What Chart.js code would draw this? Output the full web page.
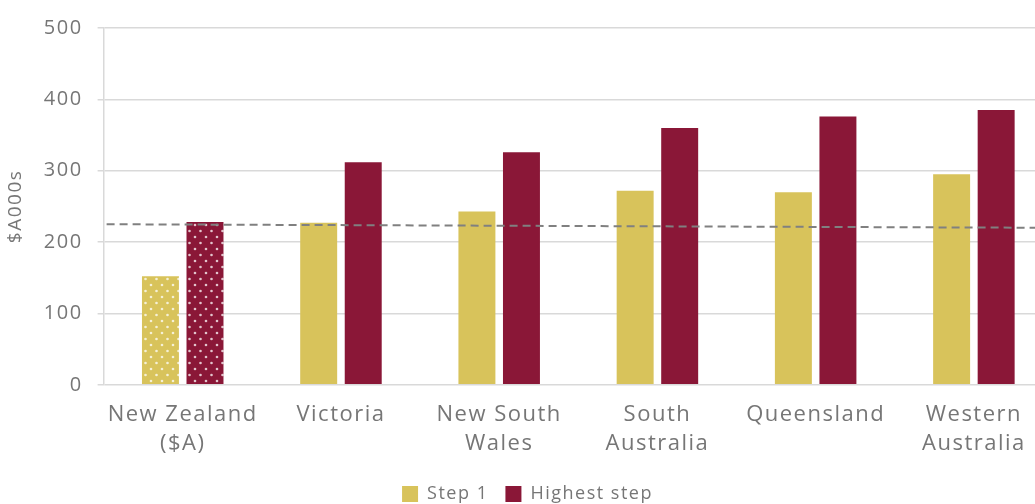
<!DOCTYPE html>
<html>
<head>
<meta charset="utf-8">
<script src="https://cdn.jsdelivr.net/npm/chart.js@4"></script>
<style>
  html, body { margin: 0; padding: 0; background: #fff; overflow: hidden; }
  canvas { display: block; }
</style>
</head>
<body>
<canvas id="payChart" width="1053" height="513"></canvas>
<script>
// Chart data
const categories = [['New Zealand', '($A)'], 'Victoria', ['New South', 'Wales'], ['South', 'Australia'], 'Queensland', ['Western', 'Australia']];
const step1 = [152, 227, 243, 272, 270, 295];
const highestStep = [228, 312, 326, 360, 376, 385];
const averageLine = [225, 220]; // dashed reference line, left edge to right edge
const yTicks = [0, 100, 200, 300, 400, 500];

const GOLD = '#D8C35B';
const MAROON = '#8A1737';
const TEXT = '#767676';
const solidColors = [GOLD, MAROON];

// dotted fill for the New Zealand bars
function dotPattern(color) {
  const c = document.createElement('canvas');
  c.width = 11; c.height = 12;
  const ctx = c.getContext('2d');
  ctx.fillStyle = color;
  ctx.fillRect(0, 0, 11, 12);
  ctx.fillStyle = 'rgba(255,255,255,0.75)';
  [[2.5, 3], [8, 9]].forEach(p => {
    ctx.beginPath();
    ctx.arc(p[0], p[1], 1.3, 0, Math.PI * 2);
    ctx.fill();
  });
  return ctx.createPattern(c, 'repeat');
}

function fills(color) {
  return categories.map((c, i) => i === 0 ? dotPattern(color) : color);
}

// Excel-ish spaced lettering
const spacing = {
  id: 'spacing',
  beforeUpdate(chart) { chart.ctx.letterSpacing = '1.5px'; },
  beforeLayout(chart) { chart.ctx.letterSpacing = '1.5px'; },
  beforeDraw(chart) { chart.ctx.letterSpacing = '1.5px'; }
};

// dashed average line across the whole plot
const avgLine = {
  id: 'avgLine',
  afterDatasetsDraw(chart) {
    const { ctx, chartArea, scales } = chart;
    ctx.save();
    ctx.strokeStyle = '#808080';
    ctx.lineWidth = 2;
    ctx.setLineDash([8, 5]);
    ctx.beginPath();
    ctx.moveTo(chartArea.left + 3, scales.y.getPixelForValue(averageLine[0]));
    ctx.lineTo(chartArea.right, scales.y.getPixelForValue(averageLine[1]));
    ctx.stroke();
    ctx.restore();
  }
};

const ctx = document.getElementById('payChart');
new Chart(ctx, {
  type: 'bar',
  data: {
    labels: categories,
    datasets: [
      {
        label: 'Step 1',
        data: step1,
        backgroundColor: fills(GOLD),
        borderWidth: 0,
        barPercentage: 0.83,
        categoryPercentage: 0.563
      },
      {
        label: 'Highest step',
        data: highestStep,
        backgroundColor: fills(MAROON),
        borderWidth: 0,
        barPercentage: 0.83,
        categoryPercentage: 0.563
      }
    ]
  },
  plugins: [spacing, avgLine],
  options: {
    responsive: false,
    animation: false,
    devicePixelRatio: 1,
    layout: { padding: { top: 28, right: 0, left: 2, bottom: 0 } },
    plugins: {
      tooltip: { enabled: false },
      legend: {
        position: 'bottom',
        labels: {
          boxWidth: 16,
          boxHeight: 16,
          padding: 17,
          color: TEXT,
          font: { family: 'Open Sans', size: 18 },
          generateLabels(chart) {
            const items = Chart.defaults.plugins.legend.labels.generateLabels(chart);
            items.forEach(it => {
              it.fillStyle = solidColors[it.datasetIndex];
              it.strokeStyle = solidColors[it.datasetIndex];
              it.lineWidth = 0;
            });
            return items;
          }
        }
      }
    },
    scales: {
      x: {
        grid: { display: false, drawTicks: false },
        border: { display: false },
        afterFit: s => { s.height -= 6; },
        ticks: {
          color: TEXT,
          padding: 16,
          maxRotation: 0,
          autoSkip: false,
          font: { family: 'Open Sans', size: 22, lineHeight: 1.3 }
        }
      },
      y: {
        min: 0,
        max: 500,
        afterBuildTicks: axis => { axis.ticks = yTicks.map(v => ({ value: v })); },
        title: {
          display: true,
          text: '$A000s',
          color: TEXT,
          padding: { top: 2, bottom: 2 },
          font: { family: 'Open Sans', size: 19 }
        },
        grid: { color: '#d9d9d9', lineWidth: 1.5, tickLength: 6 },
        border: { color: '#d9d9d9', width: 1.5 },
        ticks: {
          color: TEXT,
          padding: 15,
          font: { family: 'Open Sans', size: 20 }
        }
      }
    }
  }
});
</script>
</body>
</html>
